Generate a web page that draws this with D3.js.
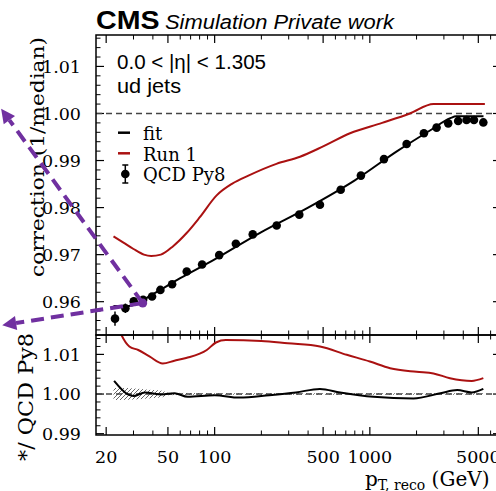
<!DOCTYPE html>
<html>
<head>
<meta charset="utf-8">
<script src="https://cdn.jsdelivr.net/npm/d3@7"></script>
<style>
  body { margin: 0; background: #fff; }
  svg { display: block; }
</style>
</head>
<body>
<div id="chart"></div>
<script>
// QCD Py8 points (pT bin centre, correction, stat error)
const qcdPt = [22.8, 26.6, 30.1, 34.6, 39.5, 44.7, 53.2, 66.1, 83, 107, 137, 176, 251, 351, 477, 649, 876, 1233, 1726, 2230, 2692, 3199, 3708, 4198, 4688, 5385];
const qcdCorr = [0.9564, 0.9586, 0.9601, 0.9604, 0.9611, 0.9625, 0.9637, 0.9664, 0.9679, 0.9699, 0.9723, 0.9743, 0.9762, 0.9785, 0.9806, 0.9838, 0.9868, 0.9903, 0.9935, 0.9958, 0.9970, 0.9979, 0.9984, 0.9986, 0.9986, 0.9981];
const qcdErr = [0.0015, 0.0010, 0.0008, 0.0007, 0.0006, 0.0005, 0.0004, 0.0004, 0.0003, 0.0003, 0.0003, 0.0002, 0.0002, 0.0002, 0.0002, 0.0002, 0.0002, 0.0002, 0.0002, 0.0002, 0.0002, 0.0002, 0.0002, 0.0002, 0.0002, 0.0002];

// fit curve
const fitPt = [22.3, 28, 40, 60, 100, 200, 400, 800, 1500, 2500, 3300, 3600, 5400];
const fitCorr = [0.9591, 0.9591, 0.9616, 0.9650, 0.9690, 0.9748, 0.9800, 0.9858, 0.9920, 0.9966, 0.9990, 0.9994, 0.9994];

// Run 1 curve
const run1Pt = [22.3, 26, 30, 35, 39, 45, 54, 66, 80, 103, 130, 165, 250, 355, 500, 745, 1200, 1812, 2570, 5510];
const run1Corr = [0.9739, 0.9725, 0.9712, 0.9700, 0.9697, 0.9700, 0.9718, 0.9746, 0.9779, 0.9826, 0.9851, 0.9868, 0.9893, 0.9908, 0.9930, 0.9958, 0.9980, 1.0000, 1.0020, 1.0020];

// ratios to QCD Py8
const ratioFitPt = [22.5, 27.6, 30, 35.5, 45.5, 55, 67, 100, 144, 225, 334, 477, 643, 1055, 1910, 2850, 3656, 4530, 5385];
const ratioFit = [1.0033, 0.9999, 0.9995, 1.0004, 0.9999, 1.0002, 0.9993, 0.9997, 0.9991, 0.9997, 1.0004, 1.0013, 1.0004, 0.9993, 0.9989, 1.0002, 1.0010, 1.0004, 1.0013];
const ratioRun1Pt = [22.3, 25, 28.2, 32.2, 38, 46.3, 55, 65.5, 89, 102, 118, 200, 296, 477, 710, 1000, 1350, 2000, 2570, 3281, 4530, 5385];
const ratioRun1 = [1.0200, 1.0150, 1.0120, 1.0111, 1.0095, 1.0077, 1.0084, 1.0091, 1.0111, 1.0130, 1.0136, 1.0134, 1.0128, 1.0120, 1.0099, 1.0082, 1.0065, 1.0056, 1.0052, 1.0040, 1.0033, 1.0040];

// hatched uncertainty band in ratio (half width)
const bandPt = [22.3, 25, 30, 35, 40, 46, 50, 100, 1000, 5400];
const bandHalf = [0.0015, 0.0015, 0.0014, 0.0012, 0.0010, 0.0008, 0.0003, 0.0002, 0.0002, 0.0002];

// axis ticks
const xMajor = [20, 50, 100, 500, 1000, 5000];
const xMinor = [30, 40, 60, 70, 80, 90, 200, 300, 400, 600, 700, 800, 900, 2000, 3000, 4000, 6000];
const yTopMajor = [0.96, 0.97, 0.98, 0.99, 1.00, 1.01];
const yRatMajor = [0.99, 1.00, 1.01];

// annotation arrows (data coordinates)
const arrowStart = [34.4, 0.9597];
const arrowEnds = [[4.21, 1.0010], [4.28, 0.9550]];

const width = 496, height = 491;
const pLeft = 96, pRight = 501, pTop = 35, pMid = 335, pBottom = 435;
const serif = "DejaVu Serif, serif";
const sans = "Liberation Sans, Arial, sans-serif";
const red = "#aa1111";
const purple = "#7030a0";

const svg = d3.select("#chart").append("svg")
    .attr("width", width)
    .attr("height", height);

const x = d3.scaleLog().domain([17.2, 7000]).range([pLeft, pRight]);
const yTop = d3.scaleLinear().domain([0.95292, 1.01668]).range([pMid, pTop]);
const yRat = d3.scaleLinear().domain([0.98967, 1.01489]).range([pBottom, pMid]);

const defs = svg.append("defs");
defs.append("clipPath").attr("id", "clipTop").append("rect")
    .attr("x", pLeft).attr("y", pTop).attr("width", pRight - pLeft).attr("height", pMid - pTop);
defs.append("clipPath").attr("id", "clipRat").append("rect")
    .attr("x", pLeft).attr("y", pMid).attr("width", pRight - pLeft).attr("height", pBottom - pMid);
const hatch = defs.append("pattern").attr("id", "hatch")
    .attr("patternUnits", "userSpaceOnUse").attr("width", 4).attr("height", 4);
hatch.append("path").attr("d", "M-1,1 l2,-2 M0,4 l4,-4 M3,5 l2,-2")
    .attr("stroke", "#666").attr("stroke-width", 1);

// ---------- ticks ----------
function minorRange(lo, hi, step) {
    const out = [];
    for (let v = lo; v <= hi + 1e-9; v += step) out.push(+v.toFixed(4));
    return out;
}

function xTicks(y0, dir) {
    const g = svg.append("g");
    g.selectAll(null).data(xMajor).enter().append("line")
        .attr("x1", d => x(d)).attr("x2", d => x(d))
        .attr("y1", y0).attr("y2", y0 + dir * 8)
        .attr("stroke", "#000").attr("stroke-width", 1.2);
    g.selectAll(null).data(xMinor).enter().append("line")
        .attr("x1", d => x(d)).attr("x2", d => x(d))
        .attr("y1", y0).attr("y2", y0 + dir * 4.5)
        .attr("stroke", "#000").attr("stroke-width", 1);
}

function yTicks(scale, major, minor) {
    const g = svg.append("g");
    [[pLeft, 1], [pRight, -1]].forEach(([x0, dir]) => {
        g.selectAll(null).data(major).enter().append("line")
            .attr("x1", x0).attr("x2", x0 + dir * 8)
            .attr("y1", d => scale(d)).attr("y2", d => scale(d))
            .attr("stroke", "#000").attr("stroke-width", 1.2);
        g.selectAll(null).data(minor).enter().append("line")
            .attr("x1", x0).attr("x2", x0 + dir * 4.5)
            .attr("y1", d => scale(d)).attr("y2", d => scale(d))
            .attr("stroke", "#000").attr("stroke-width", 1);
    });
    g.selectAll("text").data(major).enter().append("text")
        .attr("x", 81).attr("y", d => scale(d)).attr("dy", "0.36em")
        .attr("text-anchor", "end")
        .attr("font-family", serif).attr("font-size", 17.5)
        .text(d => d.toFixed(2));
}

xTicks(pTop, 1);
xTicks(pMid, -1);
xTicks(pMid, 1);
xTicks(pBottom, -1);
yTicks(yTop, yTopMajor, minorRange(0.954, 1.016, 0.002).filter(v => !yTopMajor.some(m => Math.abs(m - v) < 1e-6)));
yTicks(yRat, yRatMajor, minorRange(0.990, 1.014, 0.002).filter(v => !yRatMajor.some(m => Math.abs(m - v) < 1e-6)));

svg.append("g").selectAll("text").data(xMajor).enter().append("text")
    .attr("x", d => x(d)).attr("y", 463)
    .attr("text-anchor", "middle")
    .attr("font-family", serif).attr("font-size", 17.5)
    .text(d => d);

// ---------- top panel ----------
const gTop = svg.append("g").attr("clip-path", "url(#clipTop)");

gTop.append("line")
    .attr("x1", pLeft).attr("x2", pRight)
    .attr("y1", yTop(1)).attr("y2", yTop(1))
    .attr("stroke", "#444").attr("stroke-width", 1.5).attr("stroke-dasharray", "6,4");

const lineTop = d3.line().x(d => x(d[0])).y(d => yTop(d[1])).curve(d3.curveMonotoneX);

gTop.append("path")
    .datum(run1Pt.map((p, i) => [p, run1Corr[i]]))
    .attr("d", lineTop)
    .attr("fill", "none").attr("stroke", red).attr("stroke-width", 2);

gTop.append("path")
    .datum(fitPt.map((p, i) => [p, fitCorr[i]]))
    .attr("d", lineTop)
    .attr("fill", "none").attr("stroke", "#000").attr("stroke-width", 2);

const pts = qcdPt.map((p, i) => ({ p: p, v: qcdCorr[i], e: qcdErr[i] }));
gTop.selectAll("line.err").data(pts).enter().append("line")
    .attr("x1", d => x(d.p)).attr("x2", d => x(d.p))
    .attr("y1", d => yTop(d.v - d.e)).attr("y2", d => yTop(d.v + d.e))
    .attr("stroke", "#000").attr("stroke-width", 1.5);
gTop.selectAll("circle").data(pts).enter().append("circle")
    .attr("cx", d => x(d.p)).attr("cy", d => yTop(d.v))
    .attr("r", 4.3).attr("fill", "#000");

// ---------- ratio panel ----------
const gRat = svg.append("g").attr("clip-path", "url(#clipRat)");

gRat.append("path")
    .datum(bandPt.map((p, i) => [p, bandHalf[i]]))
    .attr("d", d3.area()
        .x(d => x(d[0]))
        .y0(d => yRat(1 - d[1]))
        .y1(d => yRat(1 + d[1]))
        .curve(d3.curveMonotoneX))
    .attr("fill", "url(#hatch)").attr("stroke", "none");

gRat.append("line")
    .attr("x1", pLeft).attr("x2", pRight)
    .attr("y1", yRat(1)).attr("y2", yRat(1))
    .attr("stroke", "#444").attr("stroke-width", 1.5).attr("stroke-dasharray", "6,4");

const lineRat = d3.line().x(d => x(d[0])).y(d => yRat(d[1])).curve(d3.curveMonotoneX);

gRat.append("path")
    .datum(ratioRun1Pt.map((p, i) => [p, ratioRun1[i]]))
    .attr("d", lineRat)
    .attr("fill", "none").attr("stroke", red).attr("stroke-width", 2);

gRat.append("path")
    .datum(ratioFitPt.map((p, i) => [p, ratioFit[i]]))
    .attr("d", lineRat)
    .attr("fill", "none").attr("stroke", "#000").attr("stroke-width", 2);

// frames
[[pTop, pMid], [pMid, pBottom]].forEach(([y0, y1]) => {
    svg.append("rect")
        .attr("x", pLeft).attr("y", y0).attr("width", pRight - pLeft).attr("height", y1 - y0)
        .attr("fill", "none").attr("stroke", "#000").attr("stroke-width", 1.5);
});

// ---------- texts ----------
svg.append("text").attr("x", 96).attr("y", 28.5)
    .attr("font-family", sans).attr("font-weight", "bold").attr("font-size", 25)
    .attr("textLength", 63.5).attr("lengthAdjust", "spacingAndGlyphs")
    .text("CMS");
svg.append("text").attr("x", 165).attr("y", 28.5)
    .attr("font-family", sans).attr("font-style", "italic").attr("font-size", 20)
    .attr("textLength", 229).attr("lengthAdjust", "spacingAndGlyphs")
    .text("Simulation Private work");

svg.append("text").attr("x", 117).attr("y", 68.5)
    .attr("font-family", sans).attr("font-size", 19.5)
    .attr("textLength", 149).attr("lengthAdjust", "spacingAndGlyphs")
    .text("0.0 < |η| < 1.305");
svg.append("text").attr("x", 117).attr("y", 92.5)
    .attr("font-family", sans).attr("font-size", 19.5)
    .attr("textLength", 64).attr("lengthAdjust", "spacingAndGlyphs")
    .text("ud jets");

svg.append("text")
    .attr("transform", `translate(44,${pTop + 2}) rotate(-90)`)
    .attr("text-anchor", "end")
    .attr("font-family", serif).attr("font-size", 19)
    .attr("textLength", 240).attr("lengthAdjust", "spacingAndGlyphs")
    .text("correction (1/median)");
svg.append("text")
    .attr("transform", `translate(33,${pMid - 2}) rotate(-90)`)
    .attr("text-anchor", "end")
    .attr("font-family", serif).attr("font-size", 21)
    .attr("textLength", 128).attr("lengthAdjust", "spacingAndGlyphs")
    .text("*/ QCD Py8");

const xl = svg.append("text").attr("x", 365).attr("y", 486)
    .attr("font-family", serif).attr("font-size", 20);
xl.append("tspan").text("p");
xl.append("tspan").attr("dy", 4).attr("font-size", 14).text("T, reco");
xl.append("tspan").attr("dy", -4).text(" (GeV)");

// legend
const legend = svg.append("g");
legend.append("line").attr("x1", 118).attr("x2", 130).attr("y1", 132.7).attr("y2", 132.7)
    .attr("stroke", "#000").attr("stroke-width", 2.5);
legend.append("line").attr("x1", 118).attr("x2", 130).attr("y1", 153.3).attr("y2", 153.3)
    .attr("stroke", red).attr("stroke-width", 2.5);
legend.append("line").attr("x1", 125.3).attr("x2", 125.3).attr("y1", 165).attr("y2", 183)
    .attr("stroke", "#000").attr("stroke-width", 1.5);
legend.selectAll(null).data([165, 183]).enter().append("line")
    .attr("x1", 122.3).attr("x2", 128.3).attr("y1", d => d).attr("y2", d => d)
    .attr("stroke", "#000").attr("stroke-width", 1.5);
legend.append("circle").attr("cx", 125.3).attr("cy", 174).attr("r", 4.3).attr("fill", "#000");
legend.selectAll("text").data([["fit", 140], ["Run 1", 160.5], ["QCD Py8", 181]]).enter().append("text")
    .attr("x", 143).attr("y", d => d[1])
    .attr("font-family", serif).attr("font-size", 18)
    .text(d => d[0]);

// ---------- annotation arrows ----------
const ann = svg.append("g");
const sx = x(arrowStart[0]), sy = yTop(arrowStart[1]);
arrowEnds.forEach(e => {
    const ex = x(e[0]), ey = yTop(e[1]);
    const ang = Math.atan2(ey - sy, ex - sx);
    const hl = 14, hw = 7;
    const bx = ex - hl * Math.cos(ang), by = ey - hl * Math.sin(ang);
    ann.append("line")
        .attr("x1", sx).attr("y1", sy).attr("x2", bx).attr("y2", by)
        .attr("stroke", purple).attr("stroke-width", 4).attr("stroke-dasharray", "13,7");
    ann.append("path")
        .attr("d", `M${ex},${ey} L${bx - hw * Math.sin(ang)},${by + hw * Math.cos(ang)} L${bx + hw * Math.sin(ang)},${by - hw * Math.cos(ang)} Z`)
        .attr("fill", purple);
});
ann.append("circle").attr("cx", sx).attr("cy", sy).attr("r", 4.5).attr("fill", purple);
</script>
</body>
</html>
